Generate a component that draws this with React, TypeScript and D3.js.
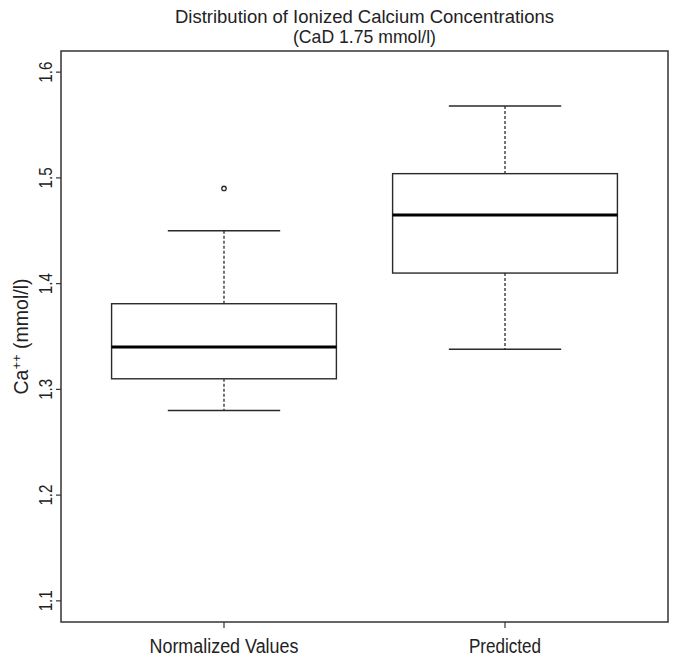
import React from "react";
import * as d3 from "d3";

const categories = ["Normalized Values", "Predicted"];
const lowerWhisker = [1.28, 1.338];
const q1 = [1.31, 1.41];
const medians = [1.34, 1.465];
const q3 = [1.381, 1.504];
const upperWhisker = [1.45, 1.568];
const outliers: number[][] = [[1.49], []];
const yTicks = [1.1, 1.2, 1.3, 1.4, 1.5, 1.6];
const titleLines = ["Distribution of Ionized Calcium Concentrations", "(CaD 1.75 mmol/l)"];

const W = 675;
const H = 659;
const left = 61;
const right = 668;
const top = 51;
const bottom = 622;
const FONT = "'Liberation Sans', Arial, Helvetica, sans-serif";
const INK = "#2a2a2a";

export default function App() {
  const x = d3.scaleLinear().domain([0.42, 2.58]).range([left, right]);
  const y = d3.scaleLinear().domain([1.08, 1.62]).range([bottom, top]);
  const boxHalf = 0.4;
  const capHalf = 0.2;

  return (
    <svg width={W} height={H} style={{ position: "absolute", left: 0, top: 0, background: "#fff" }}>
      <rect x={0} y={0} width={W} height={H} fill="#fff" />
      {/* title */}
      <text x={(left + right) / 2} y={22.5} textAnchor="middle" fontFamily={FONT} fontSize={19} fill="#222" textLength={379} lengthAdjust="spacingAndGlyphs">
        {titleLines[0]}
      </text>
      <text x={(left + right) / 2} y={42.5} textAnchor="middle" fontFamily={FONT} fontSize={19} fill="#222" textLength={143} lengthAdjust="spacingAndGlyphs">
        {titleLines[1]}
      </text>

      {/* boxes */}
      {categories.map((c, i) => {
        const cx = x(i + 1);
        return (
          <g key={c}>
            <line x1={cx} x2={cx} y1={y(upperWhisker[i])} y2={y(q3[i])} stroke={INK} strokeWidth={1.3} strokeDasharray="3,2" />
            <line x1={cx} x2={cx} y1={y(q1[i])} y2={y(lowerWhisker[i])} stroke={INK} strokeWidth={1.3} strokeDasharray="3,2" />
            <line x1={x(i + 1 - capHalf)} x2={x(i + 1 + capHalf)} y1={y(upperWhisker[i])} y2={y(upperWhisker[i])} stroke={INK} strokeWidth={1.4} />
            <line x1={x(i + 1 - capHalf)} x2={x(i + 1 + capHalf)} y1={y(lowerWhisker[i])} y2={y(lowerWhisker[i])} stroke={INK} strokeWidth={1.4} />
            <rect x={x(i + 1 - boxHalf)} y={y(q3[i])} width={x(i + 1 + boxHalf) - x(i + 1 - boxHalf)} height={y(q1[i]) - y(q3[i])} fill="none" stroke={INK} strokeWidth={1.4} />
            <line x1={x(i + 1 - boxHalf)} x2={x(i + 1 + boxHalf)} y1={y(medians[i])} y2={y(medians[i])} stroke="#000" strokeWidth={3} />
            {outliers[i].map((o, j) => (
              <circle key={j} cx={cx} cy={y(o)} r={2.2} fill="none" stroke={INK} strokeWidth={1.3} />
            ))}
          </g>
        );
      })}

      {/* frame */}
      <rect x={left} y={top} width={right - left} height={bottom - top} fill="none" stroke="#333" strokeWidth={1.5} />

      {/* y axis */}
      {yTicks.map((t) => (
        <g key={t}>
          <line x1={left - 5} x2={left} y1={y(t)} y2={y(t)} stroke="#333" strokeWidth={1.2} />
          <text transform={`translate(${left - 9},${y(t)}) rotate(-90)`} textAnchor="middle" fontFamily={FONT} fontSize={18} fill="#222" textLength={21} lengthAdjust="spacingAndGlyphs">
            {t.toFixed(1)}
          </text>
        </g>
      ))}
      <text transform={`translate(28,${(top + bottom) / 2}) rotate(-90)`} textAnchor="middle" fontFamily={FONT} fontSize={19.5} fill="#222">
        Ca<tspan fontSize={13} dy={-7.5}>++</tspan><tspan dy={7.5}> (mmol/l)</tspan>
      </text>

      {/* x axis */}
      {categories.map((c, i) => (
        <g key={c}>
          <line x1={x(i + 1)} x2={x(i + 1)} y1={bottom} y2={bottom + 6} stroke="#333" strokeWidth={1.2} />
          <text x={x(i + 1)} y={653} textAnchor="middle" fontFamily={FONT} fontSize={20} fill="#222" textLength={i === 0 ? 149 : 72} lengthAdjust="spacingAndGlyphs">
            {c}
          </text>
        </g>
      ))}
    </svg>
  );
}
